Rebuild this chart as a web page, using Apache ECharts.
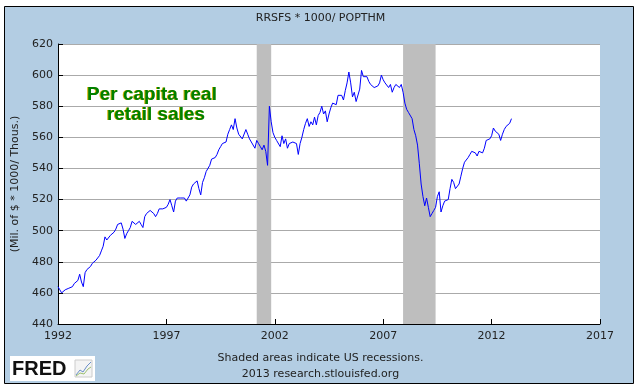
<!DOCTYPE html>
<html><head><meta charset="utf-8">
<script src="https://cdn.jsdelivr.net/npm/echarts@6/dist/echarts.min.js"></script>
<style>html,body{margin:0;padding:0;background:#fff}#c{width:641px;height:390px}</style>
</head><body><div id="c"></div>
<script>
// Monthly per capita real retail sales, Jan 1992 .. Dec 2012
const startYear = 1992;
const y1992 = [464, 462, 460, 461, 462, 462, 463, 463, 464, 466, 467, 468];
const y1993 = [472, 467, 464, 473, 475, 476, 477, 479, 480, 481, 482, 484];
const y1994 = [487, 490, 496, 494, 495, 497, 498, 499, 501, 504, 503, 505];
const y1995 = [501, 495, 498, 500, 502, 506, 505, 504, 503, 506, 504, 502];
const y1996 = [509, 511, 510, 513, 512, 511, 509, 511, 514, 515, 514, 515];
const y1997 = [515, 517, 520, 516, 512, 519, 521, 520, 521, 520, 521, 519];
const y1998 = [520, 523, 528, 530, 531, 532, 527, 523, 531, 534, 538, 539];
const y1999 = [542, 546, 546, 547, 549, 552, 554, 556, 556, 557, 562, 565];
const y2000 = [568, 565, 572, 566, 562, 561, 559, 560, 565, 562, 559, 557];
const y2001 = [557, 553, 558, 556, 554, 552, 555, 551, 542, 580, 570, 563];
const y2002 = [560, 558, 559, 554, 561, 556, 559, 553, 556, 555, 557, 557];
const y2003 = [556, 549, 556, 560, 565, 569, 572, 567, 570, 568, 573, 568];
const y2004 = [574, 576, 580, 575, 577, 570, 575, 579, 582, 583, 581, 587];
const y2005 = [586, 587, 584, 590, 595, 602, 595, 586, 589, 583, 584, 591];
const y2006 = [603, 599, 598, 599, 596, 594, 593, 592, 591, 593, 595, 600];
const y2007 = [597, 595, 596, 592, 594, 589, 592, 594, 595, 592, 594, 589];
const y2008 = [582, 578, 576, 577, 572, 565, 561, 555, 543, 530, 522, 516];
const y2009 = [521, 515, 509, 511, 513, 515, 522, 525, 512, 516, 519, 520];
const y2010 = [520, 527, 533, 531, 527, 528, 530, 535, 540, 544, 545, 547];
const y2011 = [549, 551, 551, 550, 548, 551, 552, 550, 553, 558, 559, 559];
const y2012 = [561, 566, 564, 563, 562, 558, 562, 565, 567, 566, 569, 572];
const values = [].concat(y1992, y1993, y1994, y1995, y1996, y1997, y1998, y1999, y2000,
  y2001, y2002, y2003, y2004, y2005, y2006, y2007, y2008, y2009, y2010, y2011, y2012);

// recessions [start, end] as fractional years
const recessions = [[2001 + 2/12, 2001 + 10/12], [2007 + 11/12, 2009 + 5/12]];
const xTicks = [1992, 1997, 2002, 2007, 2012, 2017];
const yTicks = [440, 460, 480, 500, 520, 540, 560, 580, 600, 620];

const title = 'RRSFS * 1000/ POPTHM';
const yName = '(Mil. of $ * 1000/ Thous.)';
const note1 = 'Shaded areas indicate US recessions.';
const note2 = '2013 research.stlouisfed.org';
const annotation = ['Per capita real', 'retail sales'];

const seriesData = values.map((v, i) => [startYear + i / 12, v]);

const G = {left: 58, right: 41, top: 44, bottom: 66};
const W = 641, H = 390;

const chart = echarts.init(document.getElementById('c'), null, {renderer: 'canvas'});
const font = 'DejaVu Sans';
const annFont = 'bold 19px "Liberation Sans"';
chart.setOption({
  animation: false,
  backgroundColor: '#fff',
  title: {
    text: title, left: 'center', top: 8,
    textStyle: {fontFamily: font, fontSize: 11, fontWeight: 'normal', color: '#222'}
  },
  grid: {left: G.left, right: G.right, top: G.top, bottom: G.bottom, show: false},
  xAxis: {
    type: 'value', min: xTicks[0], max: xTicks[xTicks.length - 1], interval: 5,
    axisLine: {lineStyle: {color: '#000', width: 1}},
    axisTick: {inside: true, length: 5, lineStyle: {color: '#000'}},
    axisLabel: {fontFamily: font, fontSize: 11, color: '#222', margin: 7, formatter: v => String(v)},
    splitLine: {show: false}
  },
  yAxis: {
    type: 'value', min: yTicks[0], max: yTicks[yTicks.length - 1], interval: 20,
    name: yName, nameLocation: 'middle', nameGap: 31, nameRotate: 90,
    nameTextStyle: {fontFamily: font, fontSize: 11, color: '#222'},
    axisLine: {show: true, lineStyle: {color: '#000', width: 1}},
    axisTick: {show: true, inside: true, length: 5, lineStyle: {color: '#000'}},
    axisLabel: {fontFamily: font, fontSize: 11, color: '#222', margin: 5},
    splitLine: {show: true, lineStyle: {color: '#aaa', width: 1}}
  },
  series: [{
    type: 'line', data: seriesData, showSymbol: false, symbol: 'none',
    lineStyle: {color: '#0000ff', width: 1}, z: 3,
    markArea: {
      silent: true, itemStyle: {color: '#bebebe', opacity: 1},
      data: recessions.map(r => [{xAxis: r[0]}, {xAxis: r[1]}])
    }
  }],
  graphic: [
    {type: 'rect', z: -10, silent: true, shape: {x: 4.5, y: 6.5, width: 629, height: 377},
     style: {fill: '#b3cde3', stroke: '#000', lineWidth: 1}},
    {type: 'rect', z: -9, silent: true, shape: {x: G.left, y: G.top, width: W - G.left - G.right, height: H - G.top - G.bottom},
     style: {fill: '#fff'}},
    {type: 'text', z: 10, left: 'center', top: 350,
     style: {text: note1 + '\n' + note2, font: '11px "DejaVu Sans"', fill: '#222', textAlign: 'center', lineHeight: 16}},
    {type: 'text', z: 10, x: 151, y: 95, style: {text: annotation[0], font: annFont, fill: '#d4b000', textAlign: 'center', textVerticalAlign: 'middle'}},
    {type: 'text', z: 11, x: 152, y: 95, style: {text: annotation[0], font: annFont, fill: '#008000', textAlign: 'center', textVerticalAlign: 'middle'}},
    {type: 'text', z: 10, x: 155, y: 115, style: {text: annotation[1], font: annFont, fill: '#d4b000', textAlign: 'center', textVerticalAlign: 'middle'}},
    {type: 'text', z: 11, x: 156, y: 115, style: {text: annotation[1], font: annFont, fill: '#008000', textAlign: 'center', textVerticalAlign: 'middle'}},
    {type: 'rect', z: 10, shape: {x: 10, y: 356, width: 85, height: 25}, style: {fill: '#fff'}},
    {type: 'text', z: 11, x: 12, y: 369, style: {text: 'FRED', font: 'bold 20px "Liberation Sans"', fill: '#111', textVerticalAlign: 'middle'}},
    {type: 'rect', z: 11, shape: {x: 75, y: 360, width: 17, height: 17}, style: {fill: '#f4f4f4', stroke: '#ccc', lineWidth: 1}},
    {type: 'polyline', z: 12, shape: {points: [[76, 375], [80, 370], [83, 372], [87, 366], [91, 362]]}, style: {stroke: '#6a8fc8', lineWidth: 1, fill: null}},
    {type: 'polyline', z: 12, shape: {points: [[76, 376], [80, 373], [84, 374], [88, 369], [91, 367]]}, style: {stroke: '#9cc070', lineWidth: 1, fill: null}}
  ]
});
</script></body></html>
